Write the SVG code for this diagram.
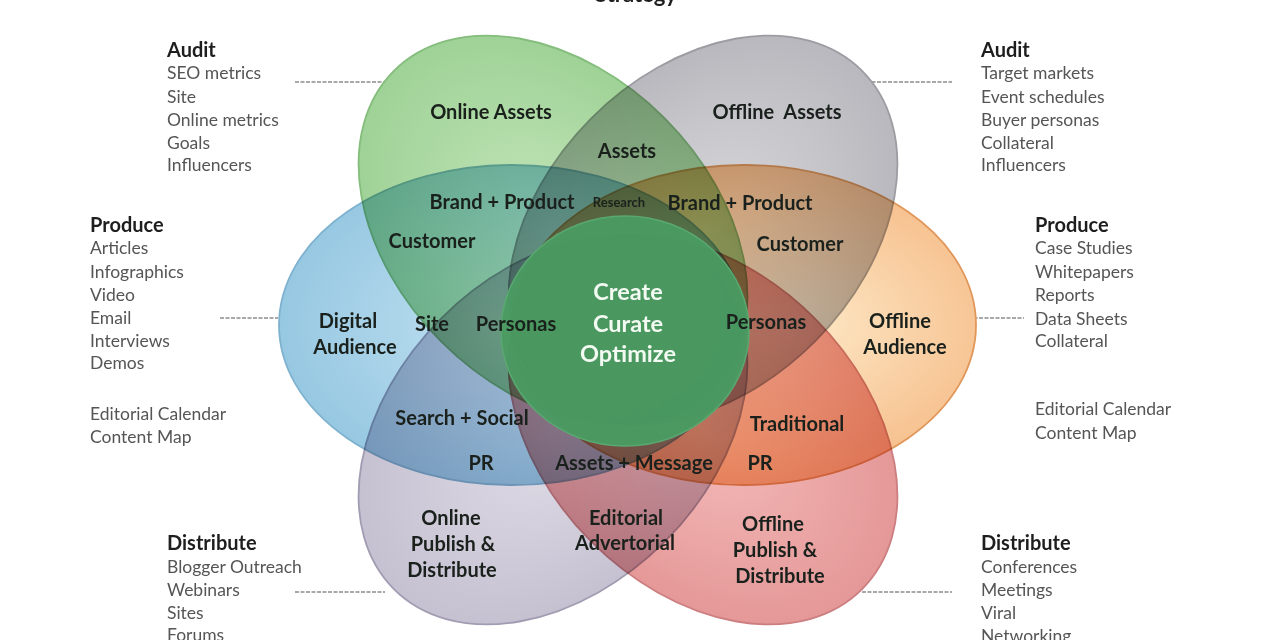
<svg xmlns="http://www.w3.org/2000/svg" width="1280" height="640" viewBox="0 0 1280 640">
<defs>
<style>
.petal{mix-blend-mode:multiply;stroke-width:1.8}
.lbl{font-family:Lato,"Open Sans","DejaVu Sans",sans-serif;font-weight:700;font-size:20px;fill:#1a211c;text-anchor:middle}
.ctr{font-family:Lato,"Open Sans","DejaVu Sans",sans-serif;font-weight:700;font-size:23.5px;fill:#f2faf2;text-anchor:middle}
.hd{font-family:Lato,"Open Sans","DejaVu Sans",sans-serif;font-weight:700;font-size:20px;fill:#1e1e1e}
.it{font-family:Lato,"Open Sans","DejaVu Sans",sans-serif;font-size:17.5px;fill:#555}
.con{stroke:#8c8c8c;stroke-width:1.4;stroke-dasharray:4 1.5;fill:none}
</style>
<radialGradient id="gGreen"><stop offset="0" stop-color="#c4e6bb"/><stop offset="1" stop-color="#9fd296"/></radialGradient>
<radialGradient id="gGray"><stop offset="0" stop-color="#dadadd"/><stop offset="1" stop-color="#b8b8be"/></radialGradient>
<radialGradient id="gBlue"><stop offset="0" stop-color="#c2e2f2"/><stop offset="1" stop-color="#97c8e2"/></radialGradient>
<radialGradient id="gOrange" cx="0.62" cy="0.5" r="0.6"><stop offset="0" stop-color="#fde8c6"/><stop offset="1" stop-color="#f4b27a"/></radialGradient>
<radialGradient id="gLav"><stop offset="0" stop-color="#e0dde8"/><stop offset="1" stop-color="#c6c1d1"/></radialGradient>
<radialGradient id="gPink"><stop offset="0" stop-color="#f3bcba"/><stop offset="1" stop-color="#e59898"/></radialGradient>
</defs>
<rect width="1280" height="640" fill="#ffffff"/>
<text x="636" y="2" class="hd" style="font-size:22px" text-anchor="middle">Strategy</text>

<g id="connectors">
<line class="con" x1="295" y1="82" x2="385" y2="82"/>
<line class="con" x1="866" y1="82" x2="952" y2="82"/>
<line class="con" x1="220" y1="318" x2="278" y2="318"/>
<line class="con" x1="968" y1="318" x2="1024" y2="318"/>
<line class="con" x1="295" y1="592" x2="385" y2="592"/>
<line class="con" x1="862" y1="592" x2="952" y2="592"/>
</g>

<g id="flower" style="isolation:isolate">
<g id="online-assets">
<ellipse class="petal" cx="553" cy="230" rx="225" ry="158" transform="rotate(45 553 230)" fill="url(#gGreen)" stroke="#84bd7c"/>
</g>
<g id="offline-assets">
<ellipse class="petal" cx="703" cy="230" rx="225" ry="158" transform="rotate(-45 703 230)" fill="url(#gGray)" stroke="#9c9ca2"/>
</g>
<g id="digital-audience">
<ellipse class="petal" cx="512" cy="325" rx="233" ry="160" fill="url(#gBlue)" stroke="#7fb2cf"/>
</g>
<g id="offline-audience">
<ellipse class="petal" cx="744" cy="325" rx="232" ry="160" fill="url(#gOrange)" stroke="#e0975a"/>
</g>
<g id="online-publish">
<ellipse class="petal" cx="553" cy="430" rx="225" ry="158" transform="rotate(-45 553 430)" fill="url(#gLav)" stroke="#a29cb2"/>
</g>
<g id="offline-publish">
<ellipse class="petal" cx="703" cy="430" rx="225" ry="158" transform="rotate(45 703 430)" fill="url(#gPink)" stroke="#cc7e80"/>
</g>
</g>

<g id="core">
<ellipse cx="625" cy="331" rx="124" ry="115" fill="#4a9b62" fill-opacity="0.97" stroke="#5aa871" stroke-width="1.5"/>
<text class="ctr" x="628" y="300">Create</text>
<text class="ctr" x="628" y="332">Curate</text>
<text class="ctr" x="628" y="362">Optimize</text>
</g>

<g id="labels">
<text class="lbl" x="491" y="119">Online Assets</text>
<text class="lbl" x="777" y="119" xml:space="preserve">Offline  Assets</text>
<text class="lbl" x="627" y="158">Assets</text>
<text class="lbl" x="502" y="209">Brand + Product</text>
<text class="lbl" x="619" y="207" style="font-size:13px">Research</text>
<text class="lbl" x="740" y="210">Brand + Product</text>
<text class="lbl" x="432" y="248">Customer</text>
<text class="lbl" x="800" y="251">Customer</text>
<text class="lbl" x="348" y="328">Digital</text>
<text class="lbl" x="355" y="354">Audience</text>
<text class="lbl" x="432" y="331">Site</text>
<text class="lbl" x="516" y="331">Personas</text>
<text class="lbl" x="766" y="329">Personas</text>
<text class="lbl" x="900" y="328">Offline</text>
<text class="lbl" x="905" y="354">Audience</text>
<text class="lbl" x="462" y="425">Search + Social</text>
<text class="lbl" x="797" y="431">Traditional</text>
<text class="lbl" x="481" y="470">PR</text>
<text class="lbl" x="634" y="470">Assets + Message</text>
<text class="lbl" x="760" y="470">PR</text>
<text class="lbl" x="451" y="525">Online</text>
<text class="lbl" x="453" y="551">Publish &amp;</text>
<text class="lbl" x="452" y="577">Distribute</text>
<text class="lbl" x="626" y="525">Editorial</text>
<text class="lbl" x="625" y="550">Advertorial</text>
<text class="lbl" x="773" y="531">Offline</text>
<text class="lbl" x="775" y="557">Publish &amp;</text>
<text class="lbl" x="780" y="583">Distribute</text>
</g>

<g id="audit-online">
<text class="hd" x="167" y="57">Audit</text>
<text class="it" x="167" y="79">SEO metrics</text>
<text class="it" x="167" y="103">Site</text>
<text class="it" x="167" y="126">Online metrics</text>
<text class="it" x="167" y="149">Goals</text>
<text class="it" x="167" y="171">Influencers</text>
</g>
<g id="produce-online">
<text class="hd" x="90" y="232">Produce</text>
<text class="it" x="90" y="254">Articles</text>
<text class="it" x="90" y="278">Infographics</text>
<text class="it" x="90" y="301">Video</text>
<text class="it" x="90" y="324">Email</text>
<text class="it" x="90" y="347">Interviews</text>
<text class="it" x="90" y="369">Demos</text>
<text class="it" x="90" y="420">Editorial Calendar</text>
<text class="it" x="90" y="443">Content Map</text>
</g>
<g id="distribute-online">
<text class="hd" x="167" y="550">Distribute</text>
<text class="it" x="167" y="573">Blogger Outreach</text>
<text class="it" x="167" y="596">Webinars</text>
<text class="it" x="167" y="619">Sites</text>
<text class="it" x="167" y="641">Forums</text>
</g>
<g id="audit-offline">
<text class="hd" x="981" y="57">Audit</text>
<text class="it" x="981" y="79">Target markets</text>
<text class="it" x="981" y="103">Event schedules</text>
<text class="it" x="981" y="126">Buyer personas</text>
<text class="it" x="981" y="149">Collateral</text>
<text class="it" x="981" y="171">Influencers</text>
</g>
<g id="produce-offline">
<text class="hd" x="1035" y="232">Produce</text>
<text class="it" x="1035" y="254">Case Studies</text>
<text class="it" x="1035" y="278">Whitepapers</text>
<text class="it" x="1035" y="301">Reports</text>
<text class="it" x="1035" y="325">Data Sheets</text>
<text class="it" x="1035" y="347">Collateral</text>
<text class="it" x="1035" y="415">Editorial Calendar</text>
<text class="it" x="1035" y="439">Content Map</text>
</g>
<g id="distribute-offline">
<text class="hd" x="981" y="550">Distribute</text>
<text class="it" x="981" y="573">Conferences</text>
<text class="it" x="981" y="596">Meetings</text>
<text class="it" x="981" y="619">Viral</text>
<text class="it" x="981" y="642">Networking</text>
</g>
</svg>
